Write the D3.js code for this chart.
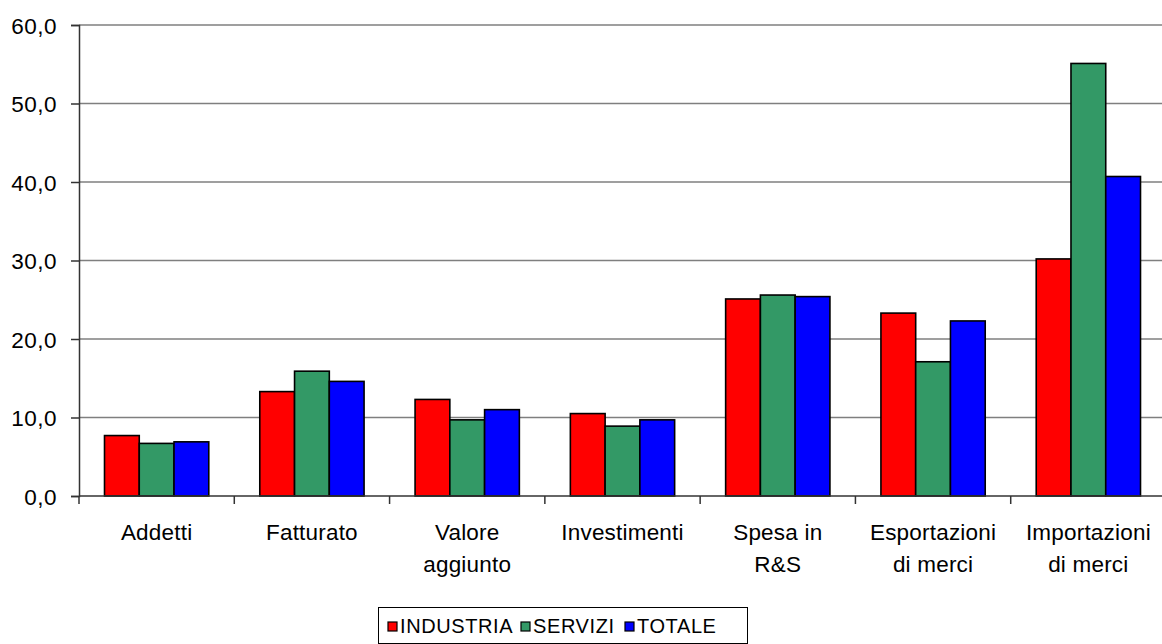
<!DOCTYPE html>
<html>
<head>
<meta charset="utf-8">
<script src="https://cdn.jsdelivr.net/npm/d3@7"></script>
<style>
  body { margin: 0; background: #fff; }
  svg { display: block; font-family: "Liberation Sans", Arial, sans-serif; }
</style>
</head>
<body>
<svg id="chart" width="1162" height="644"></svg>
<script>
const categories = [
    ['Addetti'],
    ['Fatturato'],
    ['Valore', 'aggiunto'],
    ['Investimenti'],
    ['Spesa in', 'R&S'],
    ['Esportazioni', 'di merci'],
    ['Importazioni', 'di merci']
];
const seriesNames = ['INDUSTRIA', 'SERVIZI', 'TOTALE'];
const industria = [7.7, 13.3, 12.3, 10.5, 25.1, 23.3, 30.2];
const servizi = [6.7, 15.9, 9.7, 8.9, 25.6, 17.1, 55.1];
const totale = [6.9, 14.6, 11.0, 9.7, 25.4, 22.3, 40.7];
const yTicks = [0, 10, 20, 30, 40, 50, 60];
const colors = ['#ff0000', '#339966', '#0000ff'];

const svg = d3.select('#chart');
const plotLeft = 79, plotRight = 1166, plotTop = 25, plotBottom = 496;

const x = d3.scaleBand()
    .domain(d3.range(categories.length))
    .range([plotLeft, plotRight]);
const inner = d3.scaleBand()
    .domain(d3.range(seriesNames.length))
    .range([25.5, x.bandwidth() - 25.5]);
const y = d3.scaleLinear().domain([0, 60]).range([plotBottom, plotTop]);
const fmt = d => d3.format('.1f')(d).replace('.', ',');

// gridlines
svg.append('g')
    .selectAll('line')
    .data(yTicks.slice(1))
    .enter().append('line')
    .attr('x1', plotLeft).attr('x2', plotRight)
    .attr('y1', d => y(d)).attr('y2', d => y(d))
    .attr('stroke', '#7f7f7f')
    .attr('stroke-width', 1.5);

// y axis
const yAxis = svg.append('g')
    .attr('transform', `translate(${plotLeft},0)`)
    .call(d3.axisLeft(y).tickValues(yTicks).tickSize(8).tickPadding(14).tickFormat(fmt));
yAxis.select('.domain').attr('stroke', '#333').attr('stroke-width', 1.5);
yAxis.selectAll('.tick line').attr('stroke', '#333').attr('stroke-width', 1.5);
yAxis.selectAll('text')
    .attr('fill', '#000')
    .attr('dy', '0.36em')
    .style('font-size', '22.5px')
    .style('letter-spacing', '0.5px')
    .style('font-family', '"Liberation Sans", Arial, sans-serif');

// bars
const values = [industria, servizi, totale];
const groups = svg.append('g')
    .selectAll('g')
    .data(categories.map((c, i) => i))
    .enter().append('g')
    .attr('transform', i => `translate(${x(i)},0)`);

groups.selectAll('rect')
    .data(i => values.map((s, k) => ({ k, v: s[i] })))
    .enter().append('rect')
    .attr('x', d => inner(d.k))
    .attr('width', inner.bandwidth())
    .attr('y', d => y(d.v))
    .attr('height', d => plotBottom - y(d.v))
    .attr('fill', d => colors[d.k])
    .attr('stroke', '#000')
    .attr('stroke-width', 1.6);

// x axis
const xAxis = svg.append('g')
    .attr('transform', `translate(0,${plotBottom})`);
xAxis.append('line')
    .attr('x1', plotLeft).attr('x2', plotRight)
    .attr('stroke', '#333').attr('stroke-width', 1.5);
xAxis.selectAll('.tk')
    .data(d3.range(categories.length + 1))
    .enter().append('line')
    .attr('class', 'tk')
    .attr('x1', i => plotLeft + i * x.step()).attr('x2', i => plotLeft + i * x.step())
    .attr('y1', 0).attr('y2', 8)
    .attr('stroke', '#333').attr('stroke-width', 1.5);

const labels = svg.append('g')
    .selectAll('text')
    .data(categories)
    .enter().append('text')
    .attr('x', (d, i) => x(i) + x.bandwidth() / 2)
    .attr('y', 540)
    .attr('text-anchor', 'middle')
    .style('font-size', '22.5px')
    .style('letter-spacing', '0.2px');
labels.selectAll('tspan')
    .data(d => d)
    .enter().append('tspan')
    .attr('x', function () { return this.parentNode.getAttribute('x'); })
    .attr('dy', (d, i) => i === 0 ? 0 : 32)
    .text(d => d);

// legend
const legend = svg.append('g');
legend.append('rect')
    .attr('x', 378.5).attr('y', 607.5)
    .attr('width', 369).attr('height', 36)
    .attr('fill', '#fff').attr('stroke', '#000').attr('stroke-width', 1);
const legendX = [388, 521, 625];
const item = legend.selectAll('.item')
    .data(seriesNames)
    .enter().append('g')
    .attr('class', 'item')
    .attr('transform', (d, i) => `translate(${legendX[i]},622)`);
item.append('rect')
    .attr('width', 9).attr('height', 9)
    .attr('fill', (d, i) => colors[i])
    .attr('stroke', '#000').attr('stroke-width', 1.2);
item.append('text')
    .attr('x', 12).attr('y', 11)
    .style('font-size', '20px')
    .style('letter-spacing', '0.6px')
    .text(d => d);
</script>
</body>
</html>
